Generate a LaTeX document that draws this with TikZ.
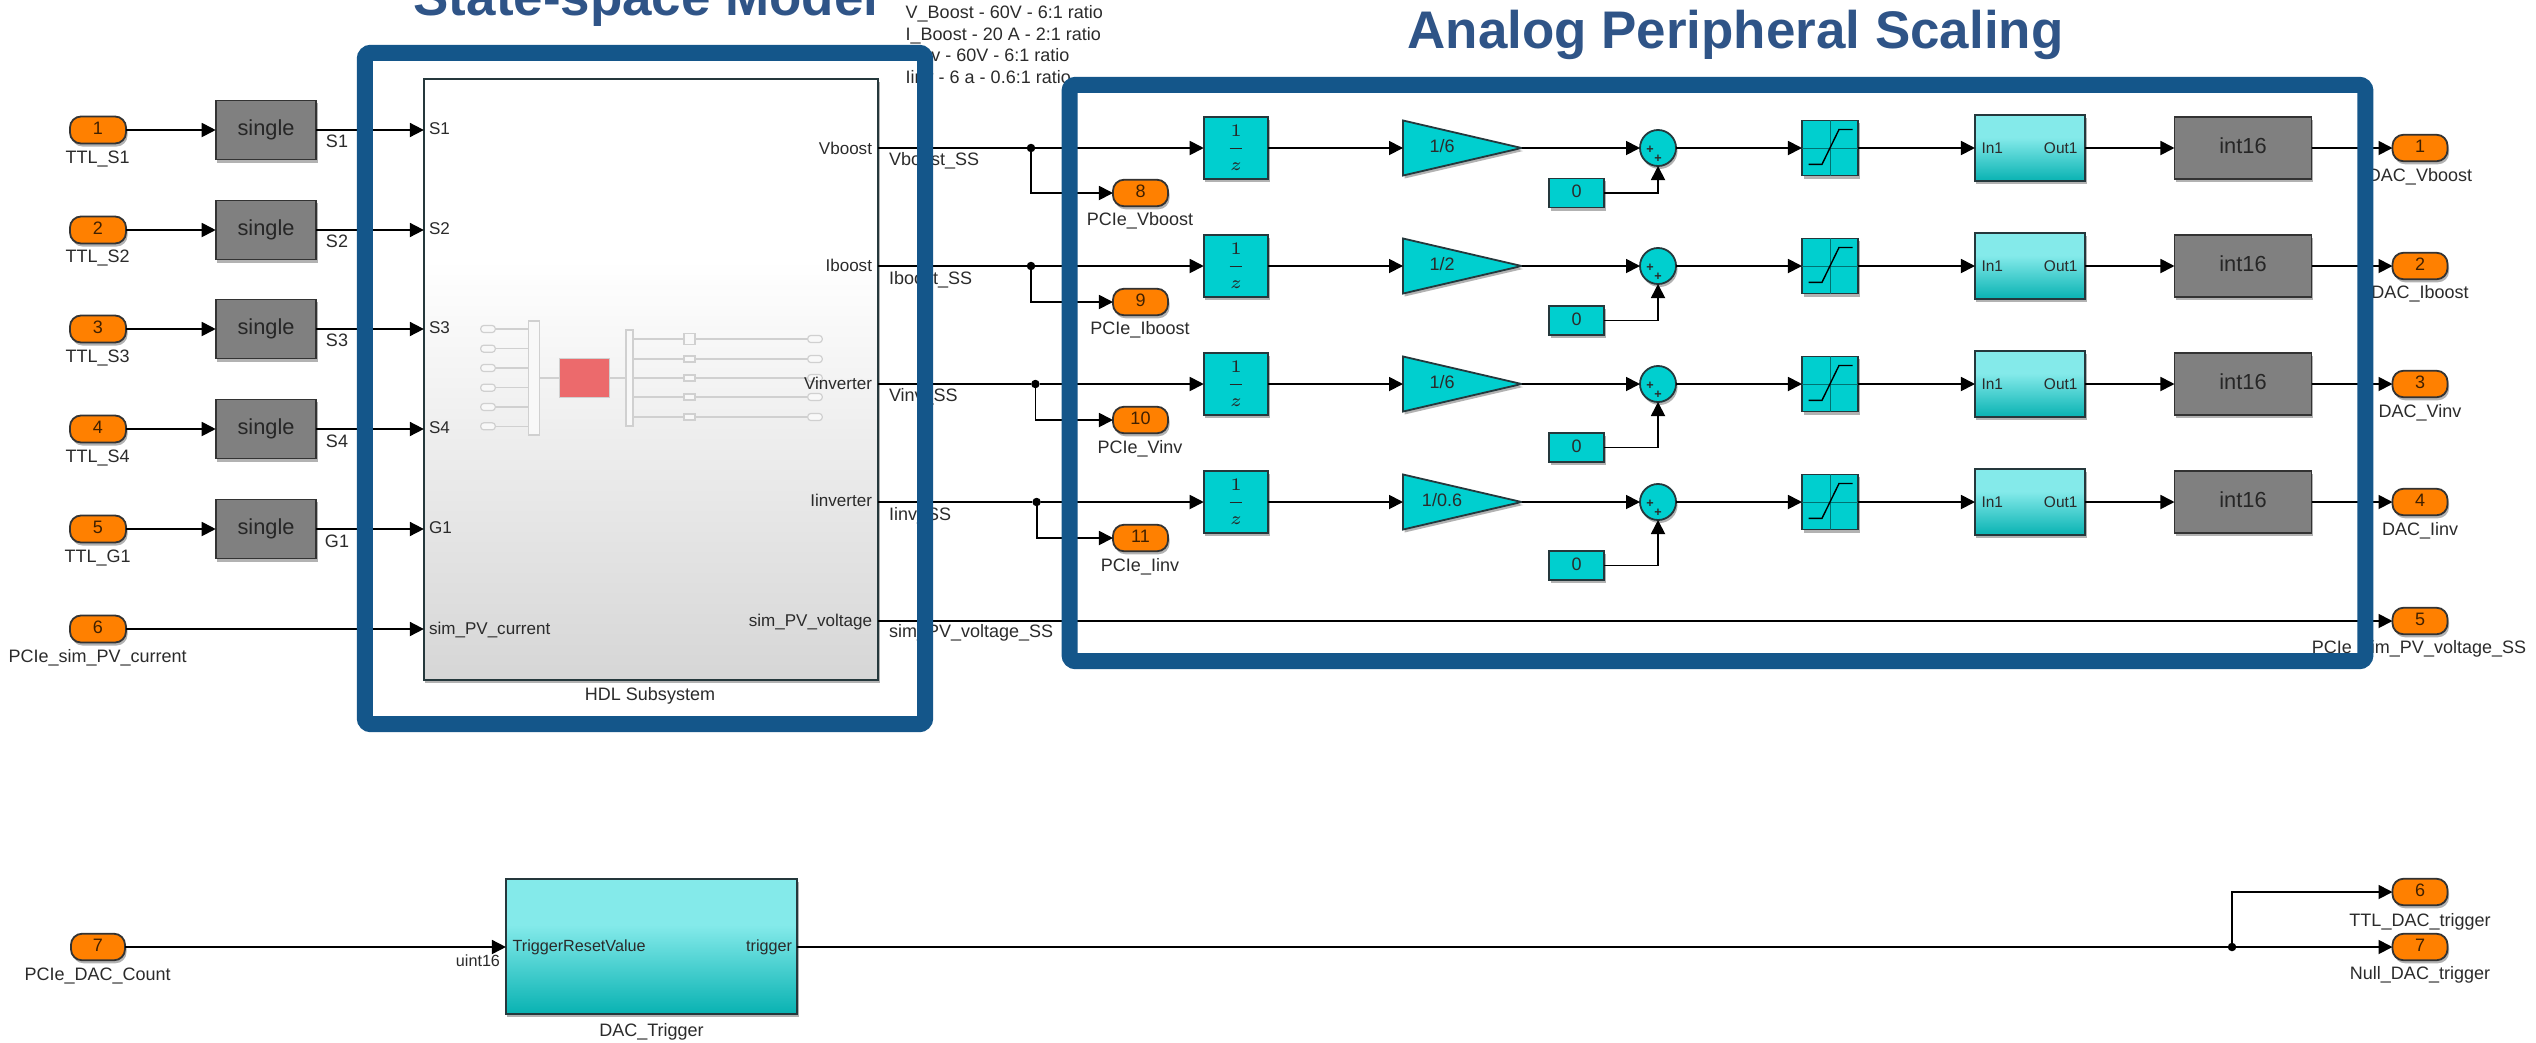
\documentclass[tikz,border=0pt]{standalone}
\usepackage[no-math]{fontspec}
\setmainfont{Liberation Sans}
\usetikzlibrary{arrows.meta,shadows,shapes.geometric,calc}
\definecolor{boxblue}{HTML}{14568A}
\definecolor{titleblue}{HTML}{2F5487}
\definecolor{teal1}{HTML}{00CFCF}
\definecolor{tealtop}{HTML}{84EAEA}
\definecolor{tealbot}{HTML}{08B2B2}
\definecolor{gray1}{HTML}{808080}
\definecolor{orange1}{HTML}{FF8000}
\definecolor{edge1}{HTML}{25383C}
\definecolor{txt}{HTML}{2B2B2B}
\definecolor{hdlbot}{HTML}{D6D6D6}
\definecolor{mini}{HTML}{D0D0D0}
\definecolor{minifill}{HTML}{F8F8F8}
\definecolor{redblk}{HTML}{EC6A6C}
\pgfdeclareverticalshading{hdlshade}{100bp}{color(0bp)=(hdlbot); color(25bp)=(hdlbot); color(60bp)=(white); color(100bp)=(white)}
\pgfdeclareverticalshading{subshade}{100bp}{color(0bp)=(tealbot); color(25bp)=(tealbot); color(58bp)=(tealtop); color(100bp)=(tealtop)}
\tikzset{
  x=0.01cm,y=-0.01cm,
  every node/.style={inner sep=0pt,outer sep=0pt,text=txt},
  shad/.style={drop shadow={opacity=.3,fill=black,shadow xshift=.015cm,shadow yshift=-.03cm}},
  blk/.style={draw=edge1,line width=.018cm,shad},
  port/.style={blk,draw=black!80,fill=orange1,rounded corners=.11cm,minimum width=.55cm,minimum height=.265cm,f18,text=black!75!orange1},
  grayblk/.style={blk,draw=black!80,fill=gray1,f22,text=black!85},
  tealblk/.style={blk,fill=teal1,f18},
  subblk/.style={blk,shading=subshade},
  gainblk/.style={blk,fill=teal1,isosceles triangle,isosceles triangle stretches,shape border rotate=0,minimum height=1.185cm,minimum width=.55cm},
  sumblk/.style={blk,fill=teal1,circle,minimum size=.36cm},
  wire/.style={draw=black,line width=.018cm},
  arr/.style={wire,-{Triangle[length=.14cm,width=.14cm]}},
  dotn/.style={circle,fill=black,minimum size=.085cm},
  miniw/.style={draw=mini,line width=.014cm},
  minip/.style={draw=mini,fill=minifill,line width=.012cm,rounded corners=.03cm,minimum width=.145cm,minimum height=.07cm},
  minir/.style={draw=mini,fill=minifill,line width=.012cm,minimum width=.11cm,minimum height=.06cm},
  minibus/.style={draw=mini,fill=minifill,line width=.012cm},
  f12/.style={font=\fontsize{3.6}{4}\selectfont\bfseries,text height=2.4pt,text depth=0pt},
  f15/.style={font=\fontsize{4.4}{5}\selectfont,text height=3.2pt,text depth=.9pt},
  f16/.style={font=\fontsize{4.6}{5}\selectfont,text height=3.3pt,text depth=.9pt},
  f17/.style={font=\fontsize{4.85}{6}\selectfont,text height=3.5pt,text depth=1pt},
  f18/.style={font=\fontsize{5.12}{6}\selectfont,text height=3.7pt,text depth=1pt},
  f22/.style={font=\fontsize{6.2}{7}\selectfont,text height=4.5pt,text depth=1.3pt},
  titl/.style={font=\fontsize{15.05}{18}\selectfont\bfseries,text=titleblue,anchor=base},
  bluebox/.style={draw=boxblue,line width=.16cm,rounded corners=.06cm},
}
\begin{document}
\begin{tikzpicture}
\fill[white] (0,0) rectangle (2536,1042);
\useasboundingbox (0,0) rectangle (2536,1042);

% HDL subsystem
\node[blk,shading=hdlshade,minimum width=4.54cm,minimum height=6.01cm] (hdl) at (651,379.5) {};
\node[f18] (hdllab) at (650,696) {HDL Subsystem};

% miniature content
\node[minibus,minimum width=.105cm,minimum height=1.14cm] (bus1) at (534,378) {};
\node[minibus,minimum width=.07cm,minimum height=.96cm] (bus2) at (629.5,378) {};
\node[draw=mini,fill=redblk,line width=.01cm,minimum width=.49cm,minimum height=.38cm] (red) at (584.5,378) {};
\draw[miniw] (bus1.east) -- (red.west) (red.east) -- (bus2.west);
\foreach \i/\y in {1/329,2/348.7,3/368,4/387.7,5/407,6/426.3}{
  \node[minip] (mi\i) at (488,\y) {};
  \draw[miniw] (mi\i.east) -- (bus1.west |- mi\i.east);
}
\foreach \i/\y in {1/339,2/359,3/378,4/397,5/417}{
  \node[minir] (mr\i) at (689.5,\y) {};
  \node[minip] (mo\i) at (815,\y) {};
  \draw[miniw] (bus2.east |- mr\i.west) -- (mr\i.west) (mr\i.east) -- (mo\i.west);
}
\node[draw=mini,fill=minifill,line width=.012cm,minimum width=.11cm,minimum height=.105cm] (mr1b) at (689.5,339) {};

% input side
\foreach \n/\nm/\y/\ly/\sy/\sg/\pin in {1/TTL\_S1/130/159/143/S1/S1,2/TTL\_S2/230/257.6/243/S2/S2,3/TTL\_S3/329/358/342/S3/S3,4/TTL\_S4/429/458/442.6/S4/S4,5/TTL\_G1/529/558/543/G1/G1}{
  \node[port,minimum width=.56cm,minimum height=.27cm] (in\n) at (98,\y) {\n};
  \node[f18] (inlab\n) at (97.6,\ly) {\nm};
  \node[grayblk,minimum width=1.005cm,minimum height=.59cm] (sg\n) at (266,\y) {single};
  \node[f18] (sglab\n) at (337,\sy) {\sg};
  \node[f17,anchor=west] (pin\n) at (429,\y+0.5) {\pin};
  \draw[arr] (in\n.east) -- (sg\n.west);
  \draw[arr] (sg\n.east) -- (hdl.west |- sg\n.east);
}
\node[port,minimum width=.56cm,minimum height=.27cm] (in6) at (98,629) {6};
\node[f18] (inlab6) at (97.6,657.5) {PCIe\_sim\_PV\_current};
\node[f17,anchor=west] (pin6) at (429,630) {sim\_PV\_current};
\draw[arr] (in6.east) -- (hdl.west |- in6.east);

% hdl output labels
\foreach \l/\t/\y in {a/Vboost/150,b/Iboost/267,c/Vinverter/385,d/Iinverter/502,e/sim\_PV\_voltage/622}{
  \node[f17,anchor=east] (pout\l) at (872,\y) {\t};
}

% four scaling rows
\foreach \r/\y/\jx/\by/\pn/\pnm/\ply/\gt/\cy/\sgn/\ssl/\ssy/\on/\onm/\oly in {
 a/148/1031/193/8/PCIe\_Vboost/221/{1/6}/193/Vboost\_SS/Vboost\_SS/161/1/DAC\_Vboost/177,
 b/266/1031/302/9/PCIe\_Iboost/330/{1/2}/320.5/Iboost\_SS/Iboost\_SS/280/2/DAC\_Iboost/294,
 c/384/1035.4/420/10/PCIe\_Vinv/449/{1/6}/447.5/Vinv\_SS/Vinv\_SS/397/3/DAC\_Vinv/413,
 d/502/1036.6/538/11/PCIe\_Iinv/567/{1/0.6}/565.5/Iinv\_SS/Iinv\_SS/516/4/DAC\_Iinv/531}{
  \coordinate (hout\r) at (hdl.east |- 0,\y);
  \node[f18,anchor=west] (sslab\r) at (889,\ssy) {\ssl};
  \node[dotn] (j\r) at (\jx,\y) {};
  \node[port] (bp\r) at (1140.5,\by) {\pn};
  \node[f18] (bplab\r) at (1140,\ply) {\pnm};
  \node[tealblk,minimum width=.645cm,minimum height=.62cm] (del\r) at (1236,\y) {};
  \node[font=\fontsize{5}{6}\selectfont,text=black!85] (dellab\r) at (1236,\y) {$\displaystyle\frac{1}{z}$};
  \node[gainblk,anchor=west] (gain\r) at (1403,\y) {};
  \node[f18] (gainlab\r) at (1442,\y) {\gt};
  \node[sumblk] (sum\r) at (1658,\y) {};
  \node[f12] (pa\r) at (1650,\y+1.5) {+};
  \node[f12] (pb\r) at (1658,\y+10.5) {+};
  \node[tealblk,minimum width=.55cm,minimum height=.29cm] (const\r) at (1576.5,\cy) {0};
  \node[tealblk,minimum width=.56cm,minimum height=.55cm] (sat\r) at (1830,\y) {};
  \draw[draw=black!45!teal1,line width=.008cm] (sat\r.north) -- (sat\r.south) (sat\r.west) -- (sat\r.east);
  \draw[draw=black,line width=.014cm] (1808.5,\y+16.3) -- (1822,\y+16.3) -- (1839,\y-18.5) -- (1852.5,\y-18.5);
  \node[subblk,minimum width=1.10cm,minimum height=.66cm] (sub\r) at (2030,\y) {};
  \node[f15,anchor=west] (subin\r) at (1981.5,\y+1) {In1};
  \node[f15,anchor=east] (subout\r) at (2077.5,\y+1) {Out1};
  \node[grayblk,minimum width=1.37cm,minimum height=.62cm] (int\r) at (2243,\y) {int16};
  \node[port] (op\r) at (2420,\y) {\on};
  \node[f18] (oplab\r) at (2420,\oly) {\onm};
  \draw[wire] (hout\r) -- (j\r);
  \draw[arr] (j\r) -- (del\r.west);
  \draw[arr] (j\r) |- (bp\r.west);
  \draw[arr] (del\r.east) -- (gain\r.west);
  \draw[arr] (gain\r.east) -- (sum\r.west);
  \draw[arr] (const\r.east) -| (sum\r.south);
  \draw[arr] (sum\r.east) -- (sat\r.west);
  \draw[arr] (sat\r.east) -- (sub\r.west);
  \draw[arr] (sub\r.east) -- (int\r.west);
  \draw[arr] (int\r.east) -- (op\r.west);
}

% sim_PV_voltage row
\coordinate (houte) at (hdl.east |- 0,621);
\node[port] (ope) at (2420,621) {5};
\node[f18] (oplabe) at (2419,649) {PCIe\_sim\_PV\_voltage\_SS};
\node[f18,anchor=west] (sslabe) at (889,633) {sim\_PV\_voltage\_SS};
\draw[arr] (houte) -- (ope.west);

% ratio note
\node[f18,anchor=west] (n1) at (905.7,14) {V\_Boost - 60V - 6:1 ratio};
\node[f18,anchor=west] (n2) at (905.7,36) {I\_Boost - 20 A - 2:1 ratio};
\node[f18,anchor=west] (n3) at (905.7,57) {Vinv - 60V - 6:1 ratio};
\node[f18,anchor=west] (n4) at (905.7,79) {Iinv - 6 a - 0.6:1 ratio};

% trigger
\node[port,minimum width=.54cm] (in7) at (98,947) {7};
\node[f18] (inlab7) at (97.6,976) {PCIe\_DAC\_Count};
\node[subblk,minimum width=2.91cm,minimum height=1.35cm] (trig) at (651.5,946.5) {};
\node[f16,anchor=west] (trigin) at (512.6,947) {TriggerResetValue};
\node[f16,anchor=east] (trigout) at (792,947) {trigger};
\node[f16,anchor=east] (u16) at (500,962) {uint16};
\node[f18] (triglab) at (651.5,1031.7) {DAC\_Trigger};
\node[port] (op6) at (2420,892) {6};
\node[f18] (oplab6) at (2420,922) {TTL\_DAC\_trigger};
\node[port] (op7) at (2420,947) {7};
\node[f18] (oplab7) at (2420,975) {Null\_DAC\_trigger};
\node[dotn] (jt) at (2232,947) {};
\draw[arr] (in7.east) -- (trig.west |- in7.east);
\draw[wire] (trig.east |- jt) -- (jt);
\draw[arr] (jt) -- (op7.west);
\draw[arr] (jt) |- (op6.west);

% titles and highlight frames
\node[titl] (t1) at (646,15.5) {State-space Model};
\node[titl] (t2) at (1735.5,48.5) {Analog Peripheral Scaling};
\node[bluebox,minimum width=5.60cm,minimum height=6.71cm] (box1) at (645,388.5) {};
\node[bluebox,minimum width=12.95cm,minimum height=5.76cm] (box2) at (1717.5,373) {};
\end{tikzpicture}
\end{document}
